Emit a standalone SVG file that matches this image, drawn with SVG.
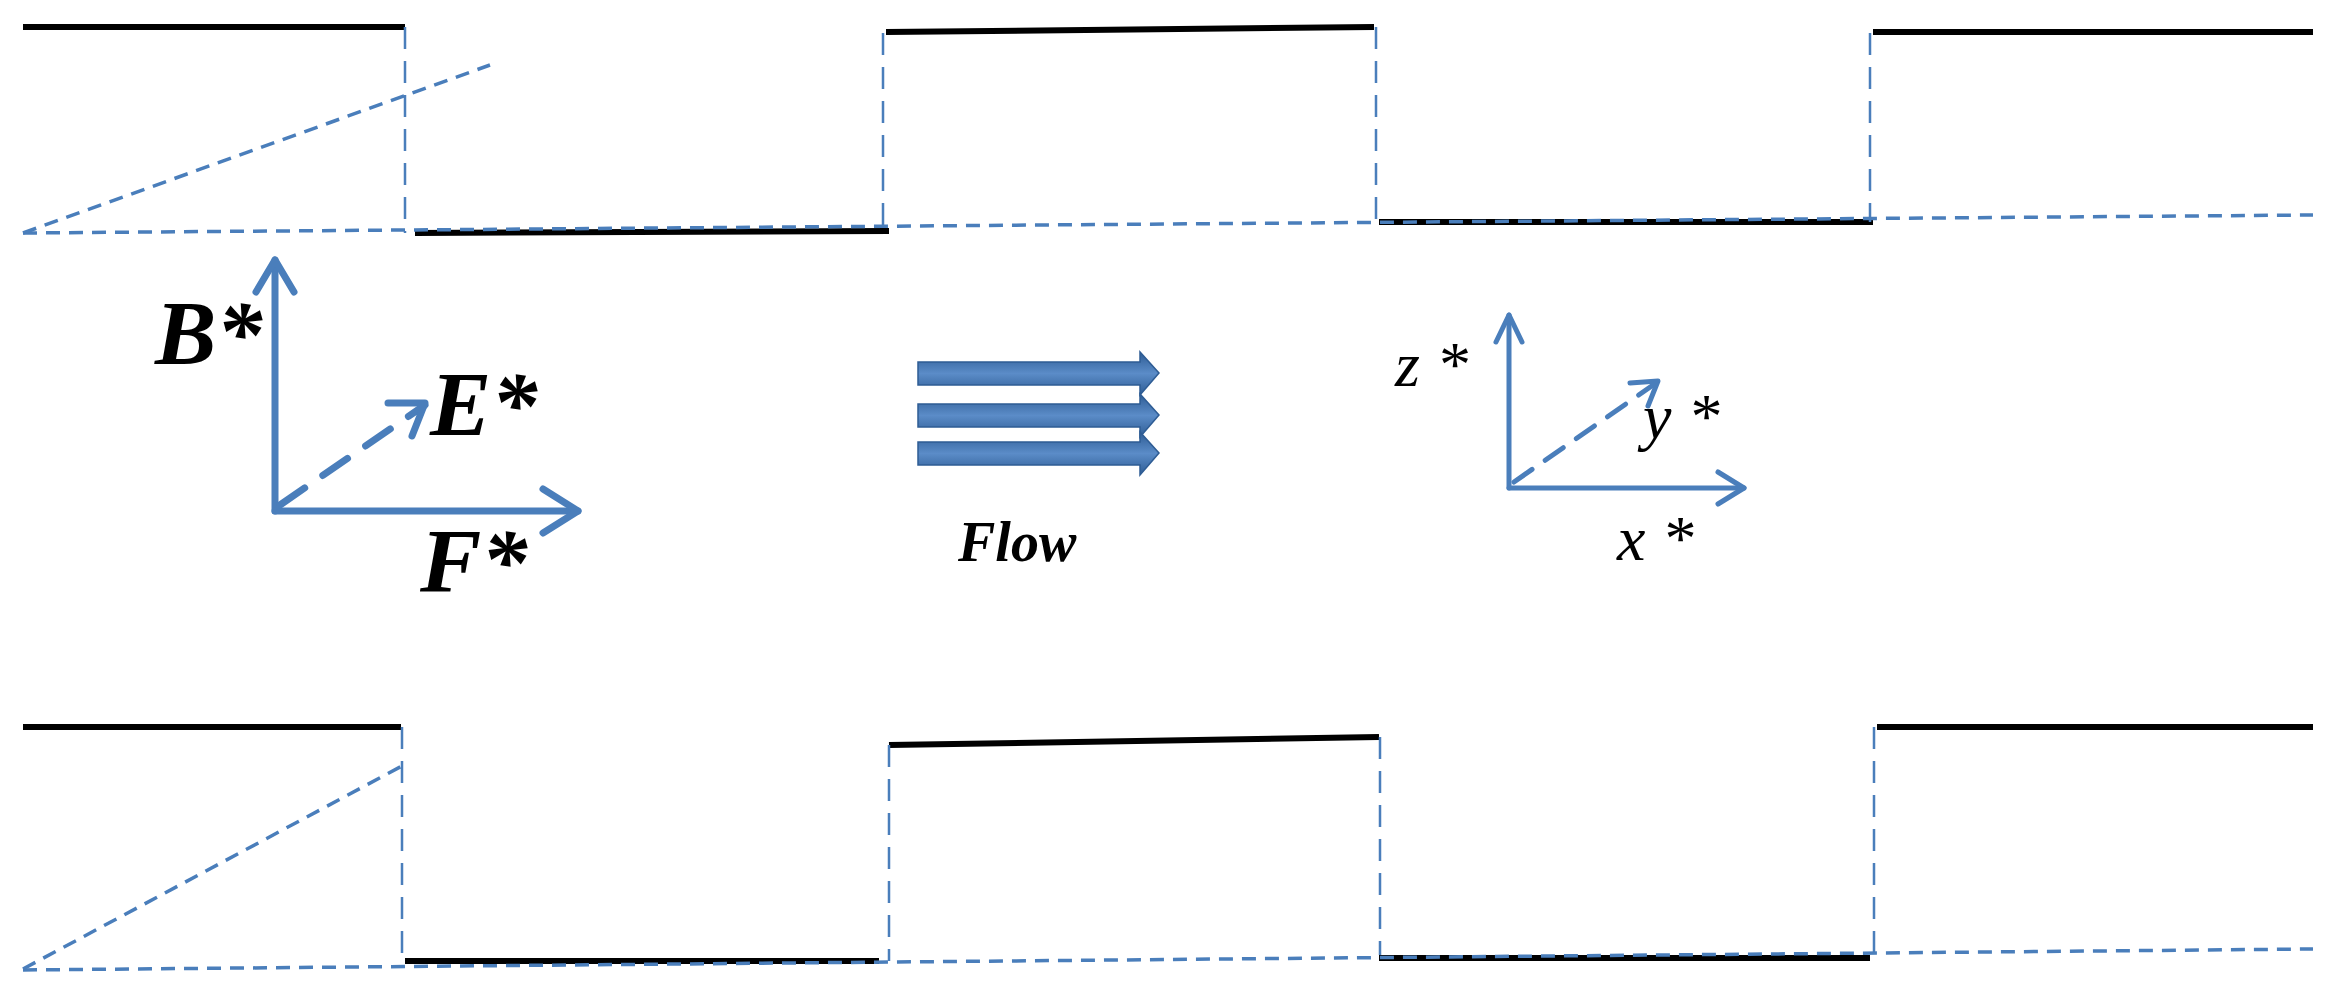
<svg xmlns="http://www.w3.org/2000/svg" width="2343" height="981" viewBox="0 0 2343 981">
<style>
.wall{stroke:#000;stroke-width:6;fill:none}
.dash{stroke:#4a7ebb;stroke-width:3.5;fill:none;stroke-dasharray:14 9}
.vd{stroke:#4a7ebb;stroke-width:2.5;fill:none;stroke-dasharray:22 12}
.ax{stroke:#4a7ebb;stroke-width:7;fill:none;stroke-linecap:round;stroke-linejoin:round}
.ax2{stroke:#4a7ebb;stroke-width:5;fill:none;stroke-linecap:round;stroke-linejoin:round}
.big{font-family:"Liberation Serif",serif;font-style:italic;font-weight:bold;font-size:92px;fill:#000}
.sm{font-family:"Liberation Serif",serif;font-style:italic;font-size:64px;fill:#000}
</style>
<defs>
<linearGradient id="g" x1="0" y1="0" x2="0" y2="1">
<stop offset="0" stop-color="#2e5c94"/><stop offset="0.5" stop-color="#5b8cc8"/><stop offset="1" stop-color="#2e5c94"/>
</linearGradient>
</defs>
<g id="connectors">
<!-- top wall -->
<polyline class="wall" points="23,27 405,27"/>
<polyline class="wall" points="415,233 889,231"/>
<polyline class="wall" points="886,32 1374,27"/>
<polyline class="wall" points="1379,222 1873,222"/>
<polyline class="wall" points="1873,32 2313,32"/>
<line class="vd" x1="405" y1="27" x2="405" y2="233"/>
<line class="vd" x1="883" y1="33" x2="883" y2="230"/>
<line class="vd" x1="1376" y1="27" x2="1376" y2="222"/>
<line class="vd" x1="1870" y1="33" x2="1870" y2="222"/>
<line class="dash" x1="23" y1="233" x2="2313" y2="215"/>
<line class="dash" x1="23" y1="233" x2="490" y2="65"/>
<!-- bottom wall -->
<polyline class="wall" points="23,727 401,727"/>
<polyline class="wall" points="405,961 879,961"/>
<polyline class="wall" points="889,745 1379,737"/>
<polyline class="wall" points="1379,958 1870,958"/>
<polyline class="wall" points="1877,727 2313,727"/>
<line class="vd" x1="402" y1="727" x2="402" y2="961"/>
<line class="vd" x1="889" y1="745" x2="889" y2="961"/>
<line class="vd" x1="1380" y1="737" x2="1380" y2="955"/>
<line class="vd" x1="1874" y1="727" x2="1874" y2="955"/>
<line class="dash" x1="23" y1="970" x2="2313" y2="949"/>
<line class="dash" x1="23" y1="969" x2="402" y2="766"/>
</g>
<g id="axes-left">
<polyline class="ax" points="275,511 275,260"/>
<polyline class="ax" points="256,292 275,260 294,292"/>
<polyline class="ax" points="275,511 578,511"/>
<polyline class="ax" points="543,489 578,511 543,533"/>
<line class="ax" x1="280" y1="505" x2="425" y2="405" stroke-dasharray="30 22"/>
<polyline class="ax" points="388,403 425,403 412,436"/>
<text class="big" x="155" y="364">B*</text>
<text class="big" x="430" y="435">E*</text>
<text class="big" x="420" y="592">F*</text>
</g>
<g id="flow">
<path d="M918,362 H1140 V352 L1159,373 1140,395 V385 H918 Z" fill="url(#g)" stroke="#2e5c94" stroke-width="1.5"/>
<path d="M918,404 H1140 V394 L1159,415 1140,437 V427 H918 Z" fill="url(#g)" stroke="#2e5c94" stroke-width="1.5"/>
<path d="M918,442 H1140 V432 L1159,453 1140,475 V465 H918 Z" fill="url(#g)" stroke="#2e5c94" stroke-width="1.5"/>
<text x="958" y="561" font-family="Liberation Serif,serif" font-style="italic" font-weight="bold" font-size="56">Flow</text>
</g>
<g id="axes-right">
<polyline class="ax2" points="1509,488 1509,315"/>
<polyline class="ax2" points="1496,342 1509,315 1522,342"/>
<polyline class="ax2" points="1509,488 1744,488"/>
<polyline class="ax2" points="1718,472 1744,488 1718,504"/>
<line class="ax2" x1="1514" y1="482" x2="1656" y2="383" stroke-dasharray="22 16"/>
<polyline class="ax2" points="1630,383 1658,381 1648,406"/>
<text class="sm" x="1395" y="386">z *</text>
<text class="sm" x="1643" y="438">y *</text>
<text class="sm" x="1617" y="560">x *</text>
</g>
</svg>
